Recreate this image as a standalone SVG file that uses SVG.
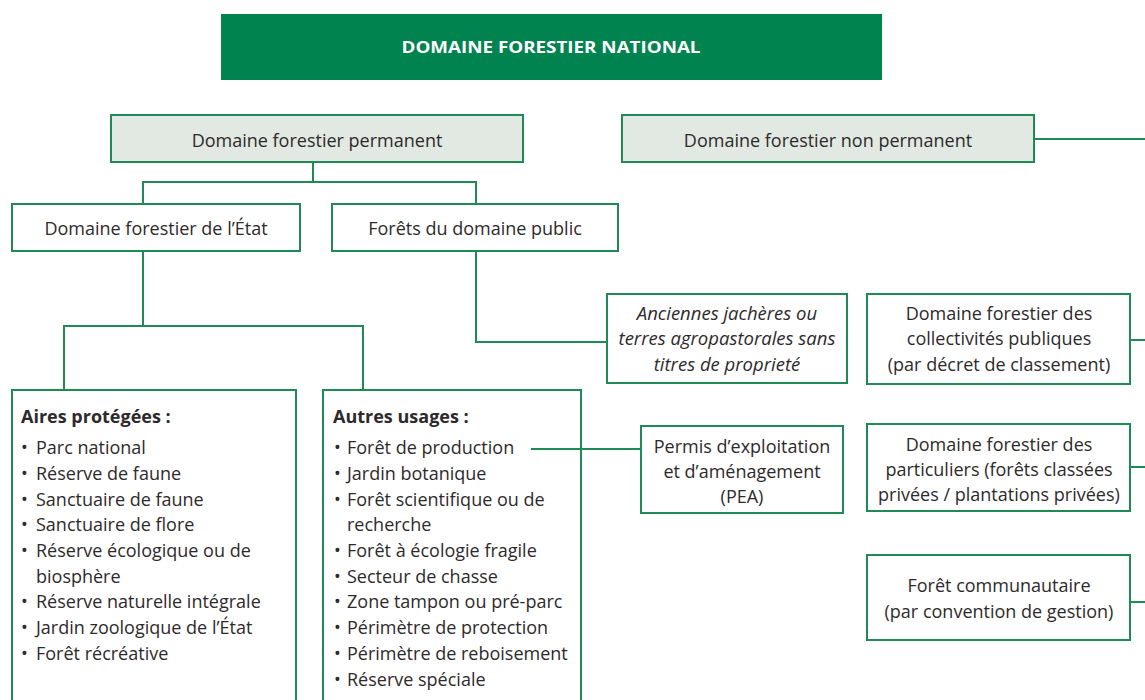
<svg xmlns="http://www.w3.org/2000/svg" width="1145" height="700" viewBox="0 0 1145 700">
<style>
.box{fill:#ffffff;stroke:#1f8a55;stroke-width:2}
.gbox{fill:#e1e9e2;stroke:#1f8a55;stroke-width:2}
.t{font-family:"Open Sans","Liberation Sans",sans-serif;font-size:18px;fill:#2e2a2c}
.c{text-anchor:middle}
.i{font-style:italic;font-size:18.5px}
.b{font-weight:bold}
.ln{fill:none;stroke:#1f8a55;stroke-width:2}
</style>
<rect width="1145" height="700" fill="#ffffff"/>
<g id="national">
<rect x="221" y="14" width="661" height="66" fill="#00834f"/>
<text class="t c b" x="551" y="53" style="fill:#ffffff;font-size:15.5px" textLength="299" lengthAdjust="spacingAndGlyphs">DOMAINE FORESTIER NATIONAL</text>
</g>
<g id="permanent">
<rect class="gbox" x="111" y="115" width="412" height="47"/>
<text class="t c" x="317" y="147">Domaine forestier permanent</text>
</g>
<g id="nonpermanent">
<rect class="gbox" x="622" y="115" width="412" height="47"/>
<text class="t c" x="828" y="147">Domaine forestier non permanent</text>
</g>
<g id="etat">
<rect class="box" x="12" y="204" width="288" height="47"/>
<text class="t c" x="156" y="235">Domaine forestier de l’État</text>
</g>
<g id="public">
<rect class="box" x="332" y="204" width="286" height="47"/>
<text class="t c" x="475" y="235">Forêts du domaine public</text>
</g>
<g id="jacheres">
<rect class="box" x="607" y="294" width="240" height="89"/>
<text class="t c i" x="727" y="320">Anciennes jachères ou</text>
<text class="t c i" x="727" y="345">terres agropastorales sans</text>
<text class="t c i" x="727" y="371">titres de proprieté</text>
</g>
<g id="collectivites">
<rect class="box" x="867" y="294" width="263" height="90"/>
<text class="t c" x="999" y="320">Domaine forestier des</text>
<text class="t c" x="999" y="345">collectivités publiques</text>
<text class="t c" x="999" y="371">(par décret de classement)</text>
</g>
<g id="particuliers">
<rect class="box" x="867" y="424" width="263" height="87"/>
<text class="t c" x="999" y="451">Domaine forestier des</text>
<text class="t c" x="999" y="476">particuliers (forêts classées</text>
<text class="t c" x="999" y="501">privées / plantations privées)</text>
</g>
<g id="communautaire">
<rect class="box" x="867" y="555" width="263" height="85"/>
<text class="t c" x="999" y="592">Forêt communautaire</text>
<text class="t c" x="999" y="618">(par convention de gestion)</text>
</g>
<g id="pea">
<rect class="box" x="641" y="426" width="202" height="87"/>
<text class="t c" x="742" y="453">Permis d’exploitation</text>
<text class="t c" x="742" y="478">et d’aménagement</text>
<text class="t c" x="742" y="503">(PEA)</text>
</g>
<g id="aires">
<rect class="box" x="12" y="390" width="284" height="330"/>
<text class="t b" x="21" y="423">Aires protégées :</text>
<text class="t"><tspan x="21" y="454">•</tspan><tspan x="36" y="454">Parc national</tspan></text>
<text class="t"><tspan x="21" y="480">•</tspan><tspan x="36" y="480">Réserve de faune</tspan></text>
<text class="t"><tspan x="21" y="506">•</tspan><tspan x="36" y="506">Sanctuaire de faune</tspan></text>
<text class="t"><tspan x="21" y="531">•</tspan><tspan x="36" y="531">Sanctuaire de flore</tspan></text>
<text class="t"><tspan x="21" y="557">•</tspan><tspan x="36" y="557">Réserve écologique ou de</tspan></text>
<text class="t" x="36" y="583">biosphère</text>
<text class="t"><tspan x="21" y="608">•</tspan><tspan x="36" y="608">Réserve naturelle intégrale</tspan></text>
<text class="t"><tspan x="21" y="634">•</tspan><tspan x="36" y="634">Jardin zoologique de l’État</tspan></text>
<text class="t"><tspan x="21" y="660">•</tspan><tspan x="36" y="660">Forêt récréative</tspan></text>
</g>
<g id="autres">
<rect class="box" x="323" y="390" width="258" height="330"/>
<text class="t b" x="333" y="423">Autres usages :</text>
<text class="t"><tspan x="334" y="454">•</tspan><tspan x="347" y="454">Forêt de production</tspan></text>
<text class="t"><tspan x="334" y="480">•</tspan><tspan x="347" y="480">Jardin botanique</tspan></text>
<text class="t"><tspan x="334" y="506">•</tspan><tspan x="347" y="506">Forêt scientifique ou de</tspan></text>
<text class="t" x="347" y="531">recherche</text>
<text class="t"><tspan x="334" y="557">•</tspan><tspan x="347" y="557">Forêt à écologie fragile</tspan></text>
<text class="t"><tspan x="334" y="583">•</tspan><tspan x="347" y="583">Secteur de chasse</tspan></text>
<text class="t"><tspan x="334" y="608">•</tspan><tspan x="347" y="608">Zone tampon ou pré-parc</tspan></text>
<text class="t"><tspan x="334" y="634">•</tspan><tspan x="347" y="634">Périmètre de protection</tspan></text>
<text class="t"><tspan x="334" y="660">•</tspan><tspan x="347" y="660">Périmètre de reboisement</tspan></text>
<text class="t"><tspan x="334" y="686">•</tspan><tspan x="347" y="686">Réserve spéciale</tspan></text>
</g>
<g id="connectors">
<polyline class="ln" points="313,162 313,182"/>
<polyline class="ln" points="143,204 143,182 476,182 476,204"/>
<polyline class="ln" points="143,251 143,326"/>
<polyline class="ln" points="64,390 64,326 363,326 363,390"/>
<polyline class="ln" points="476,251 476,342 607,342"/>
<polyline class="ln" points="1034,139 1145,139"/>
<polyline class="ln" points="1130,340 1145,340"/>
<polyline class="ln" points="1130,467 1145,467"/>
<polyline class="ln" points="1130,602 1145,602"/>
<polyline class="ln" points="531,449 641,449"/>
</g>
</svg>
